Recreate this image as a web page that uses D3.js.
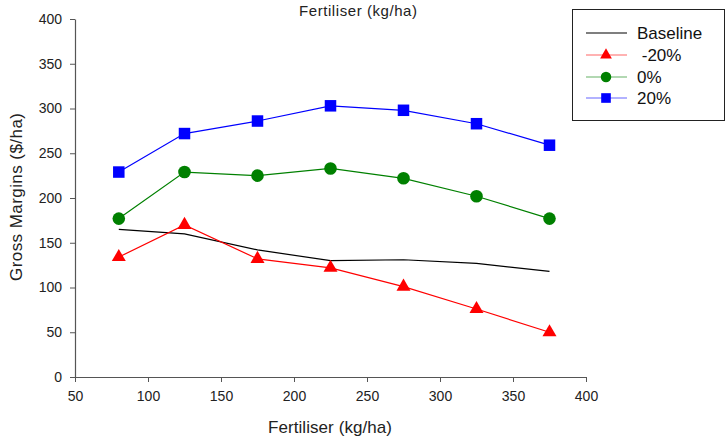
<!DOCTYPE html>
<html><head><meta charset="utf-8">
<script src="https://cdn.jsdelivr.net/npm/d3@7"></script>
<style>body{margin:0;background:#fff;} svg{display:block;font-family:"Liberation Sans",Arial,sans-serif;}</style>
</head><body>
<script>
const fertiliser = [80, 125, 175, 225, 275, 325, 375];
const baseline = [165, 160, 142, 130, 131, 127, 118];
const minus20 = [134, 170, 132, 122, 101, 76, 50];
const zero = [177, 229, 225, 233, 222, 202, 177];
const plus20 = [229, 272, 286, 303, 298, 283, 259];
const seriesNames = ["Baseline", " -20%", "0%", "20%"];
const xTicks = [50, 100, 150, 200, 250, 300, 350, 400];
const yTicks = [0, 50, 100, 150, 200, 250, 300, 350, 400];

const W = 726, H = 439;
const svg = d3.select("body").append("svg").attr("width", W).attr("height", H);
const x = d3.scaleLinear().domain([50, 400]).range([75, 586]);
const y = d3.scaleLinear().domain([0, 400]).range([377, 19]);

const axisColor = "#555";
const gx = svg.append("g").attr("transform", "translate(0,377)")
  .call(d3.axisBottom(x).tickValues(xTicks).tickSize(5).tickSizeOuter(0).tickPadding(9));
const gy = svg.append("g").attr("transform", "translate(75,0)")
  .call(d3.axisLeft(y).tickValues(yTicks).tickSize(5).tickSizeOuter(0).tickPadding(8));
[gx, gy].forEach(g => {
  g.select(".domain").attr("stroke", axisColor).attr("stroke-width", 1.2);
  g.selectAll(".tick line").attr("stroke", axisColor);
  g.selectAll(".tick text").attr("fill", "#222").style("font-size", "14px")
    .style("font-family", '"Liberation Sans",Arial,sans-serif');
});

svg.append("text").attr("x", 330).attr("y", 433).attr("text-anchor", "middle")
  .style("font-size", "17px").attr("fill", "#222").attr("textLength", 124).text("Fertiliser (kg/ha)");
svg.append("text").attr("transform", "translate(22,197) rotate(-90)").attr("text-anchor", "middle")
  .style("font-size", "17px").attr("fill", "#222").attr("textLength", 168).text("Gross Margins ($/ha)");
svg.append("text").attr("x", 358).attr("y", 16).attr("text-anchor", "middle")
  .style("font-size", "15px").attr("fill", "#222").attr("textLength", 118).text("Fertiliser (kg/ha)");

const series = [
  {name: seriesNames[0], values: baseline, color: "#000", marker: null},
  {name: seriesNames[1], values: minus20, color: "#ff0000", marker: "tri"},
  {name: seriesNames[2], values: zero, color: "#008000", marker: "circ"},
  {name: seriesNames[3], values: plus20, color: "#0000ff", marker: "sq"}
];
const line = d3.line().x((d, i) => x(fertiliser[i])).y(d => y(d));
function drawMarker(g, type, cx, cy, color, s) {
  if (type === "tri") {
    g.append("path").attr("d", d3.symbol().type(d3.symbolTriangle).size(85 * s)())
      .attr("transform", `translate(${cx},${cy})`).attr("fill", color);
  } else if (type === "circ") {
    g.append("circle").attr("cx", cx).attr("cy", cy).attr("r", 6.3 * Math.sqrt(s)).attr("fill", color);
  } else if (type === "sq") {
    const a = 11.5 * Math.sqrt(s);
    g.append("rect").attr("x", cx - a / 2).attr("y", cy - a / 2).attr("width", a).attr("height", a).attr("fill", color);
  }
}
series.forEach(s => {
  svg.append("path").datum(s.values).attr("d", line).attr("fill", "none")
    .attr("stroke", s.color).attr("stroke-width", 1.2);
  const g = svg.append("g");
  if (s.marker) s.values.forEach((v, i) => drawMarker(g, s.marker, x(fertiliser[i]), y(v), s.color, 1));
});

// legend
svg.append("rect").attr("x", 572.5).attr("y", 9.5).attr("width", 152).attr("height", 111)
  .attr("fill", "#fff").attr("stroke", "#222").attr("stroke-width", 1);
const ly = [33, 55, 77, 98];
series.forEach((s, i) => {
  const g = svg.append("g");
  g.append("line").attr("x1", 586).attr("x2", 627).attr("y1", ly[i]).attr("y2", ly[i])
    .attr("stroke", s.color).attr("stroke-opacity", s.marker ? 0.6 : 1).attr("stroke-width", 1.2);
  if (s.marker) drawMarker(g, s.marker, 606, ly[i], s.color, 0.7);
  g.append("text").attr("x", 637).attr("y", ly[i] + 6).style("font-size", "17px").attr("fill", "#111")
    .style("white-space", "pre").attr("xml:space", "preserve").text(s.name);
});
</script>
</body></html>
